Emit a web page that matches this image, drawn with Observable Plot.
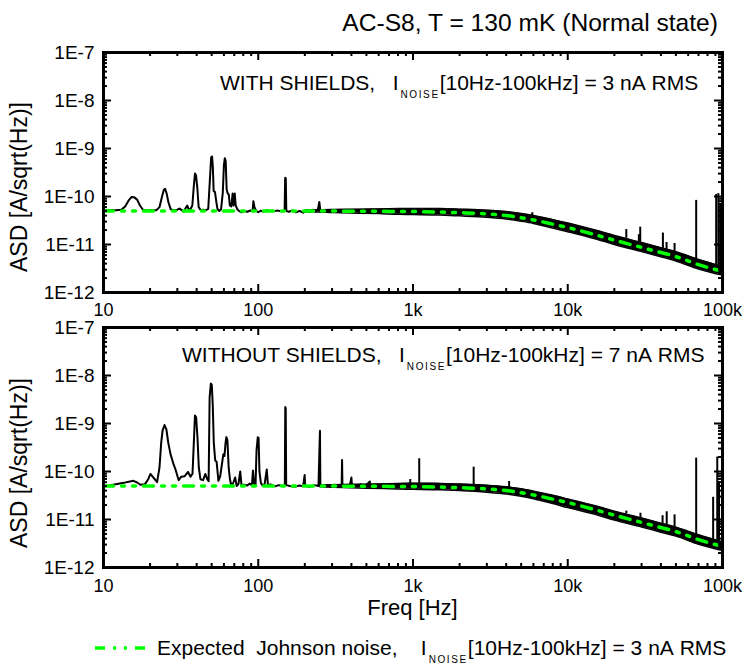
<!DOCTYPE html>
<html>
<head>
<meta charset="utf-8">
<script src="https://cdn.jsdelivr.net/npm/d3@7"></script>
<script src="https://cdn.jsdelivr.net/npm/@observablehq/plot@0.6"></script>
<style>
  body { margin: 0; background: #fff; }
  #wrap { position: relative; width: 753px; height: 666px; overflow: hidden; background: #fff; }
</style>
</head>
<body>
<div id="wrap"></div>
<script>
// ---------- axes ----------
const xDomain = [10, 100000];
const yDomain = [1e-12, 1e-7];
const xMajor = [10, 100, 1000, 10000, 100000];
const xTickLabels = ["10", "100", "1k", "10k", "100k"];
const yMajor = [1e-12, 1e-11, 1e-10, 1e-9, 1e-8, 1e-7];
const yTickLabels = ["1E-12", "1E-11", "1E-10", "1E-9", "1E-8", "1E-7"];

// ---------- texts ----------
const titleText = "AC-S8, T = 130 mK (Normal state)";
const yLabel = "ASD [A/sqrt(Hz)]";
const xLabel = "Freq [Hz]";
const topPanelPrefix = "WITH SHIELDS,   ";
const topPanelSuffix = "[10Hz-100kHz] = 3 nA RMS";
const bottomPanelPrefix = "WITHOUT SHIELDS,   ";
const bottomPanelSuffix = "[10Hz-100kHz] = 7 nA RMS";
const legendPrefix = "Expected  Johnson noise,    ";
const legendSuffix = "[10Hz-100kHz] = 3 nA RMS";

// ---------- expected Johnson noise (green dash-dot-dot) ----------
const johnsonFreq = [10, 100, 1000, 2000, 3000, 4000, 5000, 6000, 8000, 10000, 15000, 20000, 30000, 40000, 50000, 70000, 100000];
const johnsonAsd  = [5.0e-11, 5.0e-11, 4.85e-11, 4.6e-11, 4.35e-11, 4.0e-11, 3.6e-11, 3.25e-11, 2.65e-11, 2.25e-11, 1.6e-11, 1.23e-11, 8.7e-12, 6.8e-12, 5.6e-12, 3.8e-12, 2.75e-12];

// ---------- WITH SHIELDS: low-frequency trace ----------
const withShieldsTrace = [
  [10,5.2e-11],[11,5.2e-11],[12,5.2e-11],[13,5.3e-11],[13.8,6.2e-11],[14.5,8.2e-11],[15.2,9.8e-11],[15.8,9.6e-11],
  [16.5,8.6e-11],[17.2,6.5e-11],[18,5.3e-11],[19,5.1e-11],[20.5,5.2e-11],[22,5.2e-11],[23,6.0e-11],[23.8,9.5e-11],
  [24.5,1.35e-10],[25,1.45e-10],[25.6,1.15e-10],[26.3,7.5e-11],[27.2,5.4e-11],[28.5,5.2e-11],[30,5.3e-11],[31,5.6e-11],
  [32,5.2e-11],[33,4.8e-11],[34,5.8e-11],[34.8,6.5e-11],[35.5,5.4e-11],[36.5,5.5e-11],[37.5,6.5e-11],[38.3,1.6e-10],
  [39,3.0e-10],[39.6,2.8e-10],[40.4,1.5e-10],[41.2,6.0e-11],[42.5,5.2e-11],[44,5.3e-11],[46,5.2e-11],[47.5,5.5e-11],
  [48.8,2.5e-10],[49.6,6.5e-10],[50.3,6.8e-10],[50.9,4.0e-10],[51.5,1.3e-10],[52.5,1.25e-10],[53.5,8e-11],[54.5,5.5e-11],
  [56,5.0e-11],[57.5,5.4e-11],[59,1.2e-10],[60,4.5e-10],[60.8,6.3e-10],[61.6,5.5e-10],[62.5,1.4e-10],[63.5,1.15e-10],
  [64.5,1.1e-10],[65.5,6.5e-11],[67,6.2e-11],[68.3,1.15e-10],[69.3,6.5e-11],[70.5,1.15e-10],[71.5,6.5e-11],[73,5.5e-11],
  [75,5.0e-11],[78,4.7e-11],[81,5.0e-11],[85,4.8e-11],[89,5.1e-11],[92,5.0e-11],[93,8.0e-11],[94.5,6.0e-11],
  [97,5.0e-11],[100,4.7e-11],[104,5.1e-11],[108,4.8e-11],[113,5.2e-11],[118,5.0e-11],[125,4.9e-11],[133,5.1e-11],
  [141,4.9e-11],[148,5.0e-11],[149.3,2.45e-10],[150.6,2.4e-10],[151.8,5.0e-11],[158,4.8e-11],[166,5.1e-11],[175,4.7e-11],
  [185,5.0e-11],[195,4.6e-11],[205,5.1e-11],[215,4.8e-11],[225,5.3e-11],[235,4.9e-11],[243,5.4e-11],[248,7.7e-11],
  [252,5.0e-11],[262,4.8e-11],[275,5.1e-11],[290,4.9e-11],[300,5.0e-11]
];
// dense noise band [freq, lower edge, upper edge] and isolated spikes [freq, base, peak]
const withShieldsBand = [
  [200,4.8e-11,5.2e-11],[300,4.65e-11,5.35e-11],[450,4.5e-11,5.45e-11],[600,4.4e-11,5.5e-11],[800,4.25e-11,5.6e-11],
  [1000,4.2e-11,5.65e-11],[1500,4.1e-11,5.6e-11],[2000,3.95e-11,5.45e-11],[3000,3.7e-11,5.2e-11],[4000,3.4e-11,4.85e-11],
  [5000,3.05e-11,4.4e-11],[6000,2.75e-11,4.0e-11],[8000,2.2e-11,3.3e-11],[10000,1.85e-11,2.8e-11],[15000,1.32e-11,2.0e-11],
  [20000,1.0e-11,1.54e-11],[30000,7.1e-12,1.1e-11],[40000,5.55e-12,8.6e-12],[50000,4.55e-12,7.1e-12],[70000,3.1e-12,4.9e-12],
  [100000,2.3e-12,3.5e-12]
];
const withShieldsSpikes = [
  [5900,3.3e-11,4.6e-11],[23900,1.35e-11,2.05e-11],[28800,1.1e-11,1.6e-11],[29400,1.1e-11,2.3e-11],
  [41200,7.2e-12,1.73e-11],[43500,6.8e-12,1.1e-11],[49000,6e-12,1.05e-11],[67600,4e-12,8.3e-11],
  [91000,3e-12,1.1e-10],[94000,2.9e-12,1.15e-10],[96500,2.85e-12,7e-11]
];

// ---------- WITHOUT SHIELDS ----------
const withoutShieldsTrace = [
  [10,4.8e-11],[11,5.1e-11],[12,5.4e-11],[13.5,5.8e-11],[14.8,6.2e-11],[15.6,6.4e-11],[16.5,5.9e-11],[17.3,5.3e-11],
  [18.5,5.4e-11],[19.5,7.0e-11],[20.1,8.9e-11],[21,7.5e-11],[22.2,6.0e-11],[23.0,1.2e-10],[23.6,4e-10],[24.1,7.2e-10],
  [24.8,9.3e-10],[25.5,7.5e-10],[26.2,4e-10],[27.1,2.3e-10],[28.2,1.5e-10],[29.2,1.1e-10],[30.6,6.6e-11],[31.8,7.8e-11],
  [33.5,8.0e-11],[35.2,9.8e-11],[36.5,7.8e-11],[37.6,9.0e-11],[38.4,4.5e-10],[39.0,1.47e-9],[39.7,1.35e-9],[40.5,5e-10],
  [41.3,1.2e-10],[42.3,6.9e-11],[44,6.6e-11],[45.5,8.9e-11],[46.7,7.0e-11],[47.8,6.3e-11],[48.5,3.5e-9],[49.4,6.8e-9],
  [50.1,6.3e-9],[50.8,2.5e-9],[51.6,4e-10],[52.7,1.7e-10],[53.8,1.6e-10],[55.3,6.4e-11],[56.8,8e-11],[58.3,1.45e-10],
  [59.5,2.3e-10],[60.5,2.1e-10],[61.5,4.0e-10],[62.2,5.2e-10],[63.2,4.5e-10],[64.4,1.2e-10],[65.6,7e-11],[66.8,5.3e-11],
  [68.5,5.5e-11],[70.9,7.5e-11],[72.5,5.0e-11],[74.5,5.5e-11],[76.5,1.0e-10],[78,5.0e-11],[81,5.3e-11],[85,5.1e-11],
  [88,5.6e-11],[91,5.2e-11],[92.5,1.05e-10],[94,5.3e-11],[96,5.0e-11],[97.5,2.8e-10],[99.3,5.2e-10],[100.5,5.0e-10],
  [101.8,1.0e-10],[104,5.8e-11],[107,5.0e-11],[110,5.5e-11],[113.5,1.1e-10],[115.5,5.2e-11],[120,5.4e-11],[128,4.9e-11],
  [136,5.2e-11],[143,5.0e-11],[148.5,5.1e-11],[149.5,2.2e-9],[150.5,2.1e-9],[151.5,5.2e-11],[160,5.0e-11],[172,4.8e-11],
  [185,5.1e-11],[195,4.9e-11],[199.5,8.5e-11],[201,5.0e-11],[215,4.8e-11],[230,5.2e-11],[245,5.0e-11],[250.5,7.1e-10],
  [252,5.0e-11],[270,5.2e-11],[290,4.9e-11],[310,5.3e-11],[330,5.0e-11],[346,5.2e-11],[348,1.73e-10],[350,5.0e-11],
  [370,5.2e-11],[390,5.0e-11],[400,7.5e-11],[403,5.2e-11],[430,5.0e-11],[460,5.4e-11],[490,5.0e-11],[526,6.2e-11],
  [530,5.0e-11],[560,5.1e-11],[600,5.0e-11]
];
const withoutShieldsBand = [
  [250,4.8e-11,5.2e-11],[350,4.65e-11,5.35e-11],[500,4.5e-11,5.45e-11],[650,4.4e-11,5.55e-11],[800,4.3e-11,5.65e-11],
  [1000,4.25e-11,5.7e-11],[1500,4.15e-11,5.65e-11],[2000,4.0e-11,5.5e-11],[3000,3.7e-11,5.2e-11],[4000,3.4e-11,4.8e-11],
  [5000,3.05e-11,4.35e-11],[6000,2.7e-11,3.9e-11],[8000,2.15e-11,3.2e-11],[10000,1.77e-11,2.68e-11],[15000,1.28e-11,1.93e-11],
  [20000,9.7e-12,1.49e-11],[30000,7.0e-12,1.07e-11],[40000,5.45e-12,8.4e-12],[50000,4.5e-12,6.9e-12],[70000,3.05e-12,4.8e-12],
  [100000,2.25e-12,3.4e-12]
];
const withoutShieldsSpikes = [
  [960,4.9e-11,6.8e-11],[1097,4.9e-11,1.84e-10],[2466,4.6e-11,1.23e-10],[4180,4.0e-11,6.2e-11],
  [23900,1.3e-11,1.5e-11],[29500,1.05e-11,1.35e-11],[41000,7e-12,1.2e-11],[43600,6.6e-12,1.45e-11],
  [49000,6e-12,1.25e-11],[67600,4e-12,1.9e-10],[87000,3.1e-12,2.9e-11],[92500,3e-12,2.0e-10],[95000,2.9e-12,6e-11]
];

// ---------- styling ----------
const FONT = "'Liberation Sans', Arial, sans-serif";
const GREEN = "#00ff00";
const DASH = "10,8,3,8,3,8";

function toObj(arr) { return arr.map(([f, v]) => ({f, v})); }
const johnson = johnsonFreq.map((f, i) => ({f, v: johnsonAsd[i]}));

const minorX = [];
for (let e = 1; e < 5; e++) for (let k = 2; k < 10; k++) minorX.push(k * Math.pow(10, e));
const minorY = [];
for (let e = -12; e < -7; e++) for (let k = 2; k < 10; k++) minorY.push(k * Math.pow(10, e));

const xfmt = d => xTickLabels[xMajor.indexOf(d)];
const yfmt = d => yTickLabels[yMajor.indexOf(d)];

function panel(trace, band, spikes, o) {
  const bandObj = band.map(([f, lo, hi]) => ({f, lo, hi}));
  const spikeObj = spikes.map(([f, b, p]) => ({f, b, p}));
  return Plot.plot({
    width: 753, height: o.height,
    marginTop: o.mt, marginBottom: o.mb, marginLeft: 103, marginRight: 31,
    x: {type: "log", domain: xDomain, label: null},
    y: {type: "log", domain: yDomain, label: null},
    style: {fontFamily: FONT, color: "#000", background: "transparent", overflow: "visible"},
    marks: [
      Plot.areaY(bandObj, {x: "f", y1: "lo", y2: "hi", fill: "#000", curve: "monotone-x"}),
      Plot.line(bandObj, {x: "f", y: "lo", stroke: "#000", strokeWidth: 1.5, curve: "monotone-x"}),
      Plot.line(bandObj, {x: "f", y: "hi", stroke: "#000", strokeWidth: 1.5, curve: "monotone-x"}),
      Plot.ruleX(spikeObj, {x: "f", y1: "b", y2: "p", stroke: "#000", strokeWidth: 2}),
      Plot.line(toObj(trace), {x: "f", y: "v", stroke: "#000", strokeWidth: 2}),
      Plot.line(johnson, {x: "f", y: "v", stroke: GREEN, strokeWidth: 3.5, strokeDasharray: DASH, curve: "monotone-x"}),
      // inward ticks: major (8 px) and minor (4 px) on all four sides
      Plot.tickX(xMajor, {x: d => d, insetTop: 232, stroke: "#000", strokeWidth: 2}),
      Plot.tickX(minorX, {x: d => d, insetTop: 236, stroke: "#000", strokeWidth: 2}),
      Plot.tickX(xMajor, {x: d => d, insetBottom: 232, stroke: "#000", strokeWidth: 2}),
      Plot.tickX(minorX, {x: d => d, insetBottom: 236, stroke: "#000", strokeWidth: 2}),
      Plot.tickY(yMajor, {y: d => d, insetRight: 611, stroke: "#000", strokeWidth: 2}),
      Plot.tickY(minorY, {y: d => d, insetRight: 615, stroke: "#000", strokeWidth: 2}),
      Plot.tickY(yMajor, {y: d => d, insetLeft: 611, stroke: "#000", strokeWidth: 2}),
      Plot.tickY(minorY, {y: d => d, insetLeft: 615, stroke: "#000", strokeWidth: 2}),
      Plot.axisX(xMajor, {anchor: "bottom", tickSize: 0, tickPadding: o.xpad, tickFormat: xfmt, label: null, fontSize: 18}),
      Plot.axisY(yMajor, {anchor: "left", tickSize: 0, tickPadding: 9, tickFormat: yfmt, label: null, fontSize: 19}),
      Plot.frame({stroke: "#000", strokeWidth: 3})
    ]
  });
}

const wrap = document.getElementById("wrap");
const p1 = panel(withShieldsTrace, withShieldsBand, withShieldsSpikes, {height: 320, mt: 52, mb: 28, xpad: 11});
p1.style.position = "absolute"; p1.style.left = "0px"; p1.style.top = "0px";
wrap.appendChild(p1);
const p2 = panel(withoutShieldsTrace, withoutShieldsBand, withoutShieldsSpikes, {height: 300, mt: 27, mb: 33, xpad: 12});
p2.style.position = "absolute"; p2.style.left = "0px"; p2.style.top = "300px";
wrap.appendChild(p2);

// ---------- overlay texts ----------
const nb = s => s.replace(/ /g, "\u00A0");
const ov = d3.select(wrap).append("svg")
  .attr("width", 753).attr("height", 666)
  .style("position", "absolute").style("left", "0px").style("top", "0px")
  .style("font-family", FONT).style("pointer-events", "none");

ov.append("text").attr("x", 718).attr("y", 31).attr("text-anchor", "end")
  .attr("font-size", 24.6).attr("fill", "#000").text(titleText);

function noiseText(x, y, prefix, suffix, size) {
  const t = ov.append("text").attr("x", x).attr("y", y).attr("font-size", size).attr("fill", "#000");
  t.append("tspan").text(nb(prefix + "I"));
  t.append("tspan").attr("font-size", 10).attr("letter-spacing", 1.6).attr("dx", 2).attr("dy", 8).text("NOISE");
  t.append("tspan").attr("dy", -8).text(nb(suffix));
}
noiseText(220, 90, topPanelPrefix, topPanelSuffix, 21);
noiseText(182, 362, bottomPanelPrefix, bottomPanelSuffix, 21);

ov.append("text").attr("transform", "translate(27,187) rotate(-90)").attr("text-anchor", "middle")
  .attr("font-size", 23).attr("fill", "#000").text(yLabel);
ov.append("text").attr("transform", "translate(27,463) rotate(-90)").attr("text-anchor", "middle")
  .attr("font-size", 23).attr("fill", "#000").text(yLabel);

ov.append("text").attr("x", 412.5).attr("y", 615).attr("text-anchor", "middle")
  .attr("font-size", 22).attr("fill", "#000").text(xLabel);

// legend
ov.append("line").attr("x1", 95).attr("x2", 151).attr("y1", 648).attr("y2", 648)
  .attr("stroke", GREEN).attr("stroke-width", 3.5).attr("stroke-dasharray", DASH);
noiseText(157, 655, legendPrefix, legendSuffix, 21);
</script>
</body>
</html>
